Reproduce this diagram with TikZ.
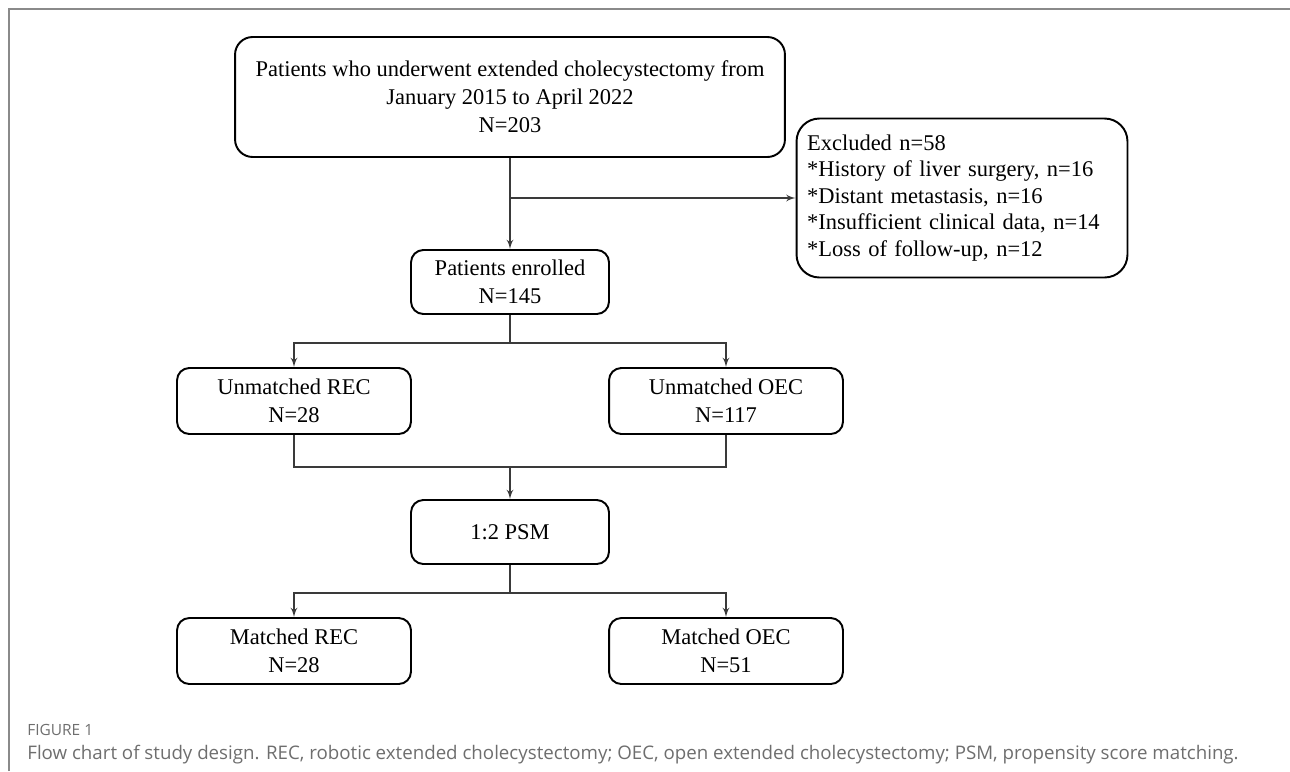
\documentclass[tikz,border=0pt]{standalone}
\usepackage{fontspec}
\setmainfont{Liberation Serif}
\newfontfamily\capfont{Open Sans}
\usepackage{tikz}
\usetikzlibrary{arrows,positioning}
\definecolor{framegray}{HTML}{8A8A8A}
\definecolor{capgray}{HTML}{6E6E6E}
\definecolor{linegray}{HTML}{3A3A3A}
\tikzset{font=\fontsize{12.8}{16}\selectfont}
\tikzset{box/.style={draw,line width=1.1pt,rounded corners=7pt,align=center,inner sep=0pt}}
\tikzset{conn/.style={draw=linegray,line width=0.85pt}}

\begin{document}
\begin{tikzpicture}[x=0.02cm,y=-0.02cm]
  \useasboundingbox (0,0) rectangle (1290,771);
  \draw[framegray,line width=0.8pt] (9,771)--(9,9)--(1290,9);
  \node[box,minimum width=11cm,minimum height=2.4cm,rounded corners=10pt] (top) at (510,97)
  {Patients who underwent extended cholecystectomy from\\January 2015 to April 2022\\N=203};
  \node[box,minimum width=6.62cm,minimum height=3.18cm,rounded corners=13pt,
  align=left,text width=6.2cm,font=\fontsize{12.8}{15.1}\selectfont] (excl) at (962,198)
  {Excluded n=58\\{*}History of liver surgery, n=16\\{*}Distant metastasis, n=16\\
  {*}Insufficient clinical data, n=14\\{*}Loss of follow-up, n=12};
  \node[box,minimum width=3.96cm,minimum height=1.28cm] (enrol) at (510,282)
  {Patients enrolled\\N=145};
  \node[box,minimum width=4.68cm,minimum height=1.32cm] (urec) at (294,401)
  {Unmatched REC\\N=28};
  \node[box,minimum width=4.68cm,minimum height=1.32cm] (uoec) at (726,401)
  {Unmatched OEC\\N=117};
  \node[box,minimum width=3.96cm,minimum height=1.28cm] (psm) at (510,532) {1:2 PSM};
  \node[box,minimum width=4.68cm,minimum height=1.32cm] (mrec) at (294,651)
  {Matched REC\\N=28};
  \node[box,minimum width=4.68cm,minimum height=1.32cm] (moec) at (726,651)
  {Matched OEC\\N=51};
  \coordinate (split) at (510,198);
  \coordinate (join) at (510,467);
  \draw[conn,-latex'] (top.south) -- (enrol.north);
  \draw[conn,-latex'] (split) -- (excl.west);
  \draw[conn,-latex'] (enrol.south) -- ++(0,28) -| (urec.north);
  \draw[conn,-latex'] (enrol.south) -- ++(0,28) -| (uoec.north);
  \draw[conn] (urec.south) |- (join) -| (uoec.south);
  \draw[conn,-latex'] (join) -- (psm.north);
  \draw[conn,-latex'] (psm.south) -- ++(0,28) -| (mrec.north);
  \draw[conn,-latex'] (psm.south) -- ++(0,28) -| (moec.north);
  \node[anchor=base west,inner sep=0pt,text=capgray,font=\capfont\fontsize{8.8}{10}\selectfont]
  (figlab) at (27,735) {FIGURE 1};
  \node[anchor=base west,inner sep=0pt,text=capgray,font=\capfont\fontsize{10.65}{13}\selectfont]
  (caption) at (27,759) {Flow chart of study design. REC, robotic extended cholecystectomy;
  OEC, open extended cholecystectomy; PSM, propensity score matching.};
\end{tikzpicture}
\end{document}
